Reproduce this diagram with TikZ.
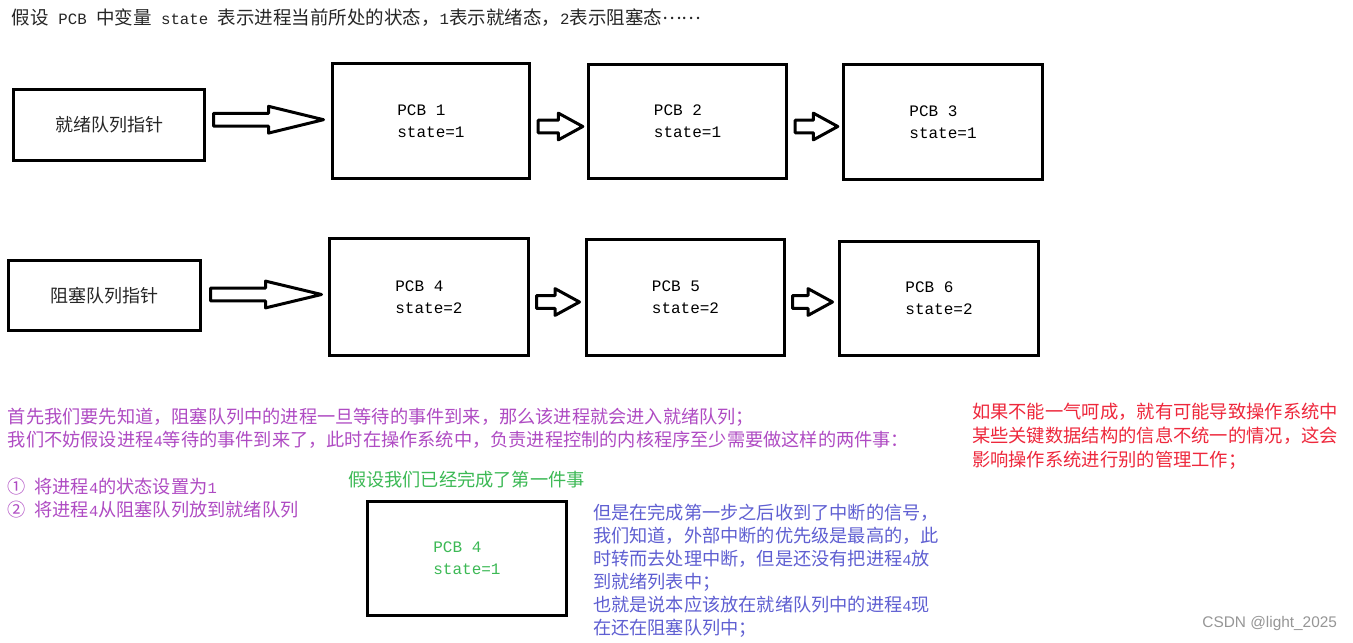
\documentclass[tikz,border=0pt]{standalone}
\usepackage{fontspec}
\setmainfont{Noto Sans CJK SC}
\newfontfamily\hw[Scale=0.85]{Liberation Mono}
\newfontfamily\boxmono{Liberation Mono}
\newfontfamily\wmfont{Liberation Sans}
\usetikzlibrary{calc}
\newcommand\h[1]{{\hw #1}}
\definecolor{ppl}{RGB}{175,75,195}
\definecolor{grn}{RGB}{60,185,85}
\definecolor{blu}{RGB}{95,95,210}
\definecolor{rd}{RGB}{238,40,60}
\definecolor{gry}{RGB}{150,150,150}
\tikzset{
  every node/.style={inner sep=0pt, outer sep=0pt},
  pcbbox/.style={draw=black, line width=3pt, align=left, font=\fontsize{16}{22}\selectfont\boxmono},
  ptrbox/.style={draw=black, line width=3pt, font=\fontsize{18}{22}\selectfont, text=black!85},
  barrow/.style={draw=black, line width=3pt, line join=round, fill=white},
  txt/.style={anchor=west, font=\fontsize{18.2}{22}\selectfont},
  titletxt/.style={anchor=west, font=\fontsize{18.5}{22}\selectfont, text=black!85},
  redtxt/.style={anchor=west, font=\fontsize{18.3}{22}\selectfont, text=rd},
}
% #1 start (x used), #2 tip, #3 head length
\newcommand\blockarr[3]{%
  \draw[barrow] let \p1=#1, \p2=#2 in
   (\x1,{\y2+6.3pt}) -- ({\x2-#3},{\y2+6.3pt}) -- ({\x2-#3},{\y2+13.4pt}) -- (\x2,\y2)
   -- ({\x2-#3},{\y2-13.4pt}) -- ({\x2-#3},{\y2-6.3pt}) -- (\x1,{\y2-6.3pt}) -- cycle;}
\begin{document}
\begin{tikzpicture}[x=1pt,y=-1pt]
\fill[white] (0,0) rectangle (1353,643);
\useasboundingbox (0,0) rectangle (1353,643);

% title
\node[titletxt] (title) at (12,18) {假设\h{\ PCB\ }中变量\h{\ state\ }表示进程当前所处的状态，\h{1}表示就绪态，\h{2}表示阻塞态\raisebox{0.3em}{……}};

% row 1
\node[ptrbox, minimum width=191pt, minimum height=71pt] (jx) at (109,125) {就绪队列指针};
\node[pcbbox, minimum width=197pt, minimum height=115pt] (p1) at (431,121) {PCB 1\\state=1};
\node[pcbbox, minimum width=198pt, minimum height=114pt] (p2) at (687.5,121.5) {PCB 2\\state=1};
\node[pcbbox, minimum width=199pt, minimum height=115pt] (p3) at (943,122) {PCB 3\\state=1};

% row 2
\node[ptrbox, minimum width=192pt, minimum height=70pt] (bx) at (104.5,295.5) {阻塞队列指针};
\node[pcbbox, minimum width=199pt, minimum height=117pt] (p4) at (429,297) {PCB 4\\state=2};
\node[pcbbox, minimum width=198pt, minimum height=116pt] (p5) at (685.5,297.5) {PCB 5\\state=2};
\node[pcbbox, minimum width=199pt, minimum height=114pt] (p6) at (939,298.5) {PCB 6\\state=2};

% arrows
\blockarr{($(jx.east)+(9,0)$)}{($(p1.west)+(-9,-1.3)$)}{55pt}
\blockarr{($(p1.east)+(8.7,0)$)}{($(p2.west)+(-5.7,5)$)}{24.5pt}
\blockarr{($(p2.east)+(8.7,0)$)}{($(p3.west)+(-5.7,4.5)$)}{24.5pt}
\blockarr{($(bx.east)+(10,0)$)}{($(p4.west)+(-8,-2.5)$)}{56pt}
\blockarr{($(p4.east)+(8,0)$)}{($(p5.west)+(-7,4.5)$)}{24.5pt}
\blockarr{($(p5.east)+(8,0)$)}{($(p6.west)+(-7,3.5)$)}{24.5pt}

% purple text
\node[txt, text=ppl] (pl1) at (8,417) {首先我们要先知道，阻塞队列中的进程一旦等待的事件到来，那么该进程就会进入就绪队列；};
\node[txt, text=ppl] (pl2) at (8,440) {我们不妨假设进程\h{4}等待的事件到来了，此时在操作系统中，负责进程控制的内核程序至少需要做这样的两件事：};
\node[txt, text=ppl] (pl3) at (7,487) {①\h{\ }将进程\h{4}的状态设置为\h{1}};
\node[txt, text=ppl] (pl4) at (7,510) {②\h{\ }将进程\h{4}从阻塞队列放到就绪队列};

% green part
\node[txt, text=grn] (gcap) at (348,480) {假设我们已经完成了第一件事};
\node[pcbbox, text=grn, minimum width=199pt, minimum height=114pt] (g4) at (467,558.5) {PCB 4\\state=1};

% blue text
\foreach \t [count=\i] in {但是在完成第一步之后收到了中断的信号，,
  我们知道，外部中断的优先级是最高的，此,
  时转而去处理中断，但是还没有把进程\h{4}放,
  到就绪列表中；,
  也就是说本应该放在就绪队列中的进程\h{4}现,
  在还在阻塞队列中；}
  \node[txt, text=blu] (bl\i) at (593,{490+23*\i}) {\t};

% red text
\foreach \t [count=\i] in {如果不能一气呵成，就有可能导致操作系统中,
  某些关键数据结构的信息不统一的情况，这会,
  影响操作系统进行别的管理工作；}
  \node[redtxt] (rl\i) at (972,{388+24*\i}) {\t};

% watermark
\node[anchor=east, text=gry, font=\fontsize{15.4}{18}\selectfont\wmfont] (wm) at (1337,624) {CSDN @light\_2025};
\end{tikzpicture}
\end{document}
